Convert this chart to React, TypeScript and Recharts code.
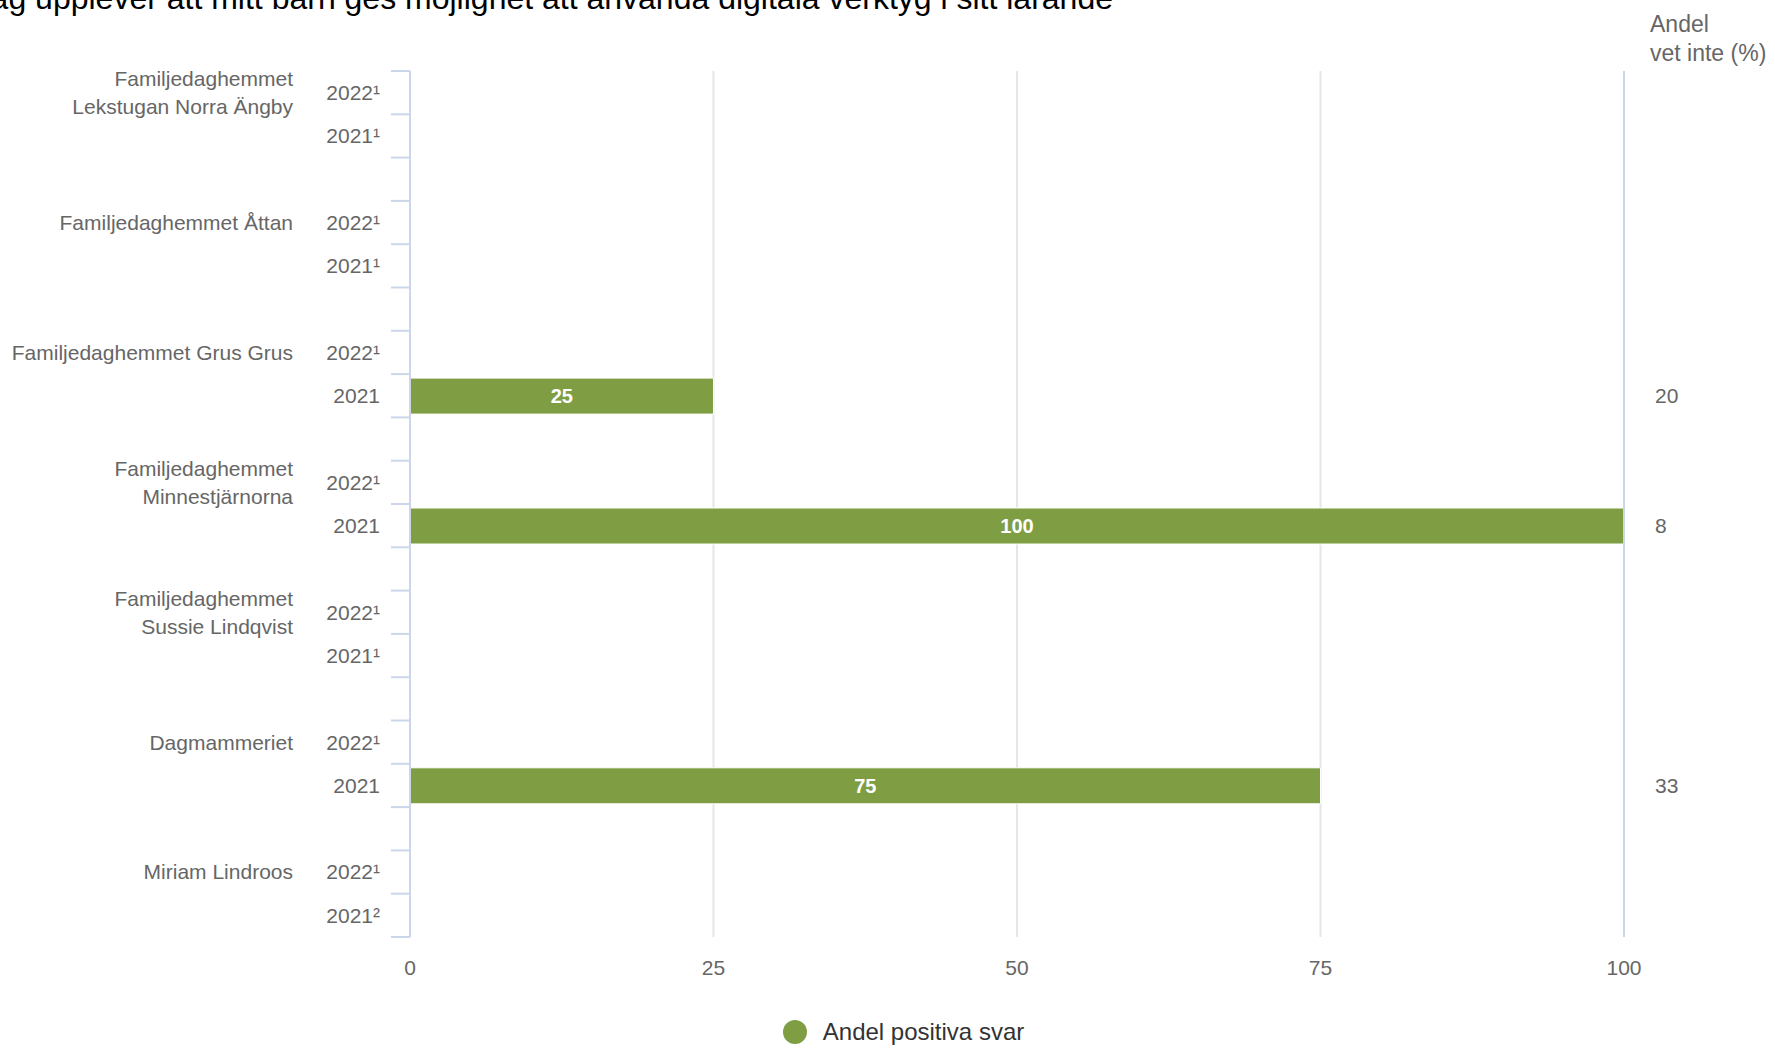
import React from 'react';
import { BarChart, Bar, XAxis, YAxis, CartesianGrid, Legend, LabelList } from 'recharts';

const title = 'Jag upplever att mitt barn ges möjlighet att använda digitala verktyg i sitt lärande';
const groupLabels = [
  'Familjedaghemmet\nLekstugan Norra Ängby',
  'Familjedaghemmet Åttan',
  'Familjedaghemmet Grus Grus',
  'Familjedaghemmet\nMinnestjärnorna',
  'Familjedaghemmet\nSussie Lindqvist',
  'Dagmammeriet',
  'Miriam Lindroos',
];
const yearLabels2022 = ['2022¹', '2022¹', '2022¹', '2022¹', '2022¹', '2022¹', '2022¹'];
const yearLabels2021 = ['2021¹', '2021¹', '2021', '2021', '2021¹', '2021', '2021²'];
const positive2022: (number | null)[] = [null, null, null, null, null, null, null];
const positive2021: (number | null)[] = [null, null, 25, 100, null, 75, null];
const dontKnow2022: (number | null)[] = [null, null, null, null, null, null, null];
const dontKnow2021: (number | null)[] = [null, null, 20, 8, null, 33, null];
const xTicks = [0, 25, 50, 75, 100];
const seriesName = 'Andel positiva svar';
const dontKnowHeader = ['Andel', 'vet inte (%)'];

type Row = { key: string; year: string; group: string | null; value: number | null; dk: number | null };
const rows: Row[] = [];
groupLabels.forEach((g, i) => {
  rows.push({ key: `g${i}-2022`, year: yearLabels2022[i], group: g, value: positive2022[i], dk: dontKnow2022[i] });
  rows.push({ key: `g${i}-2021`, year: yearLabels2021[i], group: null, value: positive2021[i], dk: dontKnow2021[i] });
  if (i < groupLabels.length - 1) rows.push({ key: `g${i}-gap`, year: '', group: null, value: null, dk: null });
});

const W = 1775;
const H = 1050;
const TOP = 71;
const LEFT_W = 410;
const RIGHT_W = 151;
const X_AXIS_H = 69;
const LEGEND_H = 44;
const PLOT_H = H - TOP - X_AXIS_H - LEGEND_H;
const BAND = PLOT_H / rows.length;
const FONT = '"Liberation Sans", Arial, Helvetica, sans-serif';
const LABEL_COLOR = '#666666';
const AXIS_COLOR = '#ccd6eb';
const BAR_COLOR = '#7f9e44';

const LeftTick = (props: any) => {
  const { x, y, payload } = props;
  const idx = rows.findIndex((r) => r.key === payload.value);
  const row = rows[idx];
  if (!row) return null;
  const half = BAND / 2;
  const lines = row.group ? row.group.split('\n') : [];
  const lh = 28;
  return (
    <g>
      <line x1={x - 19} x2={x} y1={y - half} y2={y - half} stroke={AXIS_COLOR} strokeWidth={2} />
      {idx === rows.length - 1 && (
        <line x1={x - 19} x2={x} y1={y + half} y2={y + half} stroke={AXIS_COLOR} strokeWidth={2} />
      )}
      {row.year && (
        <text x={x - 30} y={y} dy="0.35em" textAnchor="end" fill={LABEL_COLOR} fontSize={21} fontFamily={FONT}>
          {row.year}
        </text>
      )}
      {lines.map((ln, k) => (
        <text
          key={k}
          x={x - 117}
          y={y + (k - (lines.length - 1) / 2) * lh}
          dy="0.35em"
          textAnchor="end"
          fill={LABEL_COLOR}
          fontSize={21}
          fontFamily={FONT}
        >
          {ln}
        </text>
      ))}
    </g>
  );
};

const RightTick = (props: any) => {
  const { x, y, payload } = props;
  const row = rows.find((r) => r.key === payload.value);
  if (!row || row.dk === null) return null;
  return (
    <text x={x + 31} y={y} dy="0.35em" textAnchor="start" fill={LABEL_COLOR} fontSize={21} fontFamily={FONT}>
      {row.dk}
    </text>
  );
};

const RightHeader = (props: any) => {
  const vb = props.viewBox || {};
  const x = (vb.x ?? W - RIGHT_W) + 26;
  const y = vb.y ?? TOP;
  return (
    <g>
      {dontKnowHeader.map((t, i) => (
        <text key={i} x={x} y={y - 39 + i * 29} fill={LABEL_COLOR} fontSize={23} fontFamily={FONT}>
          {t}
        </text>
      ))}
    </g>
  );
};

const renderLegend = (props: any) => {
  const payload = props.payload && props.payload.length ? props.payload : [{ value: seriesName, color: BAR_COLOR }];
  return (
    <div
      style={{
        display: 'flex',
        justifyContent: 'center',
        alignItems: 'center',
        height: LEGEND_H,
        paddingTop: 8,
        paddingLeft: 32,
        boxSizing: 'border-box',
      }}
    >
      {payload.map((p: any, i: number) => (
        <div key={i} style={{ display: 'flex', alignItems: 'center' }}>
          <svg width={24} height={24} style={{ display: 'block' }}>
            <circle cx={12} cy={12} r={12} fill={p.color || BAR_COLOR} />
          </svg>
          <span style={{ marginLeft: 16, fontSize: 24, color: '#333333', fontFamily: FONT }}>{p.value}</span>
        </div>
      ))}
    </div>
  );
};

export default function App() {
  return (
    <div style={{ position: 'relative', width: W, height: H, background: '#ffffff' }}>
      <style>{'body{margin:0;}'}</style>
      <BarChart
        width={W}
        height={H}
        data={rows}
        layout="vertical"
        margin={{ top: TOP, right: 0, bottom: 0, left: 0 }}
        barCategoryGap={0}
      >
        <CartesianGrid horizontal={false} stroke="#e6e6e6" strokeWidth={2} />
        <XAxis
          type="number"
          domain={[0, 100]}
          ticks={xTicks}
          axisLine={false}
          tickLine={false}
          tickSize={0}
          tickMargin={23}
          height={X_AXIS_H}
          tick={{ fill: LABEL_COLOR, fontSize: 21, fontFamily: FONT }}
        />
        <YAxis
          yAxisId="left"
          type="category"
          dataKey="key"
          width={LEFT_W}
          interval={0}
          tickSize={0}
          tickMargin={0}
          tickLine={false}
          axisLine={{ stroke: AXIS_COLOR, strokeWidth: 2 }}
          tick={<LeftTick />}
        />
        <YAxis
          yAxisId="right"
          orientation="right"
          type="category"
          dataKey="key"
          width={RIGHT_W}
          interval={0}
          tickSize={0}
          tickMargin={0}
          tickLine={false}
          axisLine={{ stroke: AXIS_COLOR, strokeWidth: 2 }}
          tick={<RightTick />}
          label={<RightHeader />}
        />
        <Legend verticalAlign="bottom" height={LEGEND_H} content={renderLegend} />
        <Bar
          yAxisId="left"
          dataKey="value"
          name={seriesName}
          fill={BAR_COLOR}
          stroke="#ffffff"
          strokeWidth={1}
          barSize={36}
          isAnimationActive={false}
        >
          <LabelList dataKey="value" position="center" fill="#ffffff" fontSize={20} fontWeight="bold" fontFamily={FONT} />
        </Bar>
      </BarChart>
      <svg
        width={W}
        height={40}
        style={{ position: 'absolute', left: 0, top: 0, pointerEvents: 'none', overflow: 'hidden' }}
      >
        <text x={1113} y={9} textAnchor="end" fill="#000000" fontSize={32} fontFamily={FONT}>
          {title}
        </text>
      </svg>
    </div>
  );
}
